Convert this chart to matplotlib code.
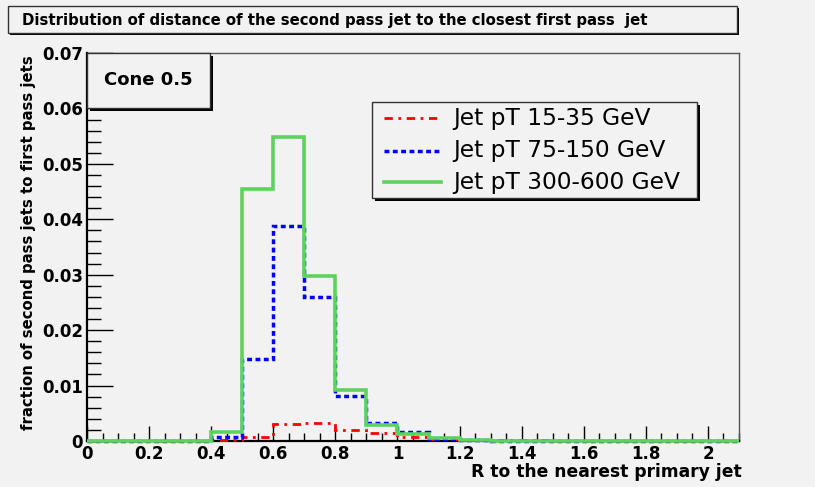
import numpy as np
import matplotlib
matplotlib.use("Agg")
import matplotlib.pyplot as plt
from matplotlib.patches import Rectangle
from matplotlib.lines import Line2D
from matplotlib.ticker import MultipleLocator, FixedFormatter, FixedLocator

# ---------------- data ----------------
bin_edges = np.round(np.linspace(0.0, 2.1, 22), 2)
red_vals = [0, 0, 0, 0, 0.0001, 0.0007, 0.0031, 0.0033, 0.0020, 0.0014, 0.0007,
            0.0003, 0.0002, 0.0001, 0.0001, 0, 0, 0, 0, 0, 0]
blue_vals = [0, 0, 0, 0, 0.0007, 0.0148, 0.0388, 0.0259, 0.0082, 0.0032, 0.0016,
             0.0004, 0.0001, 0, 0, 0, 0, 0, 0, 0, 0]
green_vals = [0, 0, 0, 0, 0.0016, 0.0455, 0.0549, 0.0298, 0.0092, 0.0028, 0.0012,
              0.0006, 0.0001, 0, 0, 0, 0, 0, 0, 0, 0]
series_labels = ["Jet pT 15-35 GeV", "Jet pT 75-150 GeV", "Jet pT 300-600 GeV"]
x_ticks = [0, 0.2, 0.4, 0.6, 0.8, 1.0, 1.2, 1.4, 1.6, 1.8, 2.0]
x_ticklabels = ["0", "0.2", "0.4", "0.6", "0.8", "1", "1.2", "1.4", "1.6", "1.8", "2"]
y_ticks = [0, 0.01, 0.02, 0.03, 0.04, 0.05, 0.06, 0.07]
y_ticklabels = ["0", "0.01", "0.02", "0.03", "0.04", "0.05", "0.06", "0.07"]
title_text = "Distribution of distance of the second pass jet to the closest first pass  jet"
xlabel_text = "R to the nearest primary jet"
ylabel_text = "fraction of second pass jets to first pass jets"
box_text = "Cone 0.5"

# ---------------- style ----------------
W, H = 815, 487
BG = "#f2f2f2"
plt.rcParams["font.family"] = ["DejaVu Sans"]

fig = plt.figure(figsize=(W / 100, H / 100), dpi=100, facecolor=BG)

def fx(x):
    return x / W

def fy(y):
    return 1 - y / H

ax_l, ax_r, ax_t, ax_b = 87, 739, 53, 441
ax = fig.add_axes([fx(ax_l), fy(ax_b), (ax_r - ax_l) / W, (ax_b - ax_t) / H])
ax.set_facecolor(BG)

styles = [
    dict(color="#ff0000", lw=2.0, ls=(0, (3, 2, 1, 2))),
    dict(color="#0000ff", lw=2.5, ls=(0, (1.4, 1.0))),
    dict(color="#5cd35c", lw=2.6, ls="-"),
]
for vals, st in zip([red_vals, blue_vals, green_vals], styles):
    ax.stairs(vals, bin_edges, baseline=None, color=st["color"], linewidth=st["lw"],
              linestyle=st["ls"], clip_on=False, zorder=3)

ax.set_xlim(0, 2.1)
ax.set_ylim(0, 0.07)

ax.xaxis.set_major_locator(FixedLocator(x_ticks))
ax.xaxis.set_major_formatter(FixedFormatter(x_ticklabels))
ax.xaxis.set_minor_locator(MultipleLocator(0.05))
ax.yaxis.set_major_locator(FixedLocator(y_ticks))
ax.yaxis.set_major_formatter(FixedFormatter(y_ticklabels))
ax.yaxis.set_minor_locator(MultipleLocator(0.002))

ax.tick_params(axis="x", which="major", direction="in", length=11, width=1.0,
               labelsize=12, pad=3, color="black")
ax.tick_params(axis="x", which="minor", direction="in", length=6, width=1.0, color="black")
ax.tick_params(axis="y", which="major", direction="in", length=19, width=1.0,
               labelsize=12, pad=3, color="black")
ax.tick_params(axis="y", which="minor", direction="in", length=10, width=1.0, color="black")
for lab in ax.get_xticklabels() + ax.get_yticklabels():
    lab.set_fontweight("bold")

for s in ["left", "bottom"]:
    ax.spines[s].set_color("black")
    ax.spines[s].set_linewidth(1.6)
for s in ["top", "right"]:
    ax.spines[s].set_color("#555555")
    ax.spines[s].set_linewidth(1.0)

# axis labels
fig.text(fx(742), fy(472), xlabel_text, ha="right", va="center",
         fontsize=12.3, fontweight="bold")
fig.text(fx(29), fy(243), ylabel_text, ha="center", va="center", rotation=90,
         fontsize=10.7, fontweight="bold")

# helper for boxes with ROOT style shadow
def shadow_box(x0, y0, x1, y1, shadow=3, lw=1.0, ec="#333333"):
    sh = Rectangle((fx(x0 + shadow), fy(y1 + shadow)), (x1 - x0) / W, (y1 - y0) / H,
                   transform=fig.transFigure, facecolor="black", edgecolor="none", zorder=9)
    bx = Rectangle((fx(x0), fy(y1)), (x1 - x0) / W, (y1 - y0) / H,
                   transform=fig.transFigure, facecolor=BG, edgecolor=ec, lw=lw, zorder=10)
    fig.add_artist(sh)
    fig.add_artist(bx)

# title box
shadow_box(8, 6, 737, 33, shadow=2)
fig.text(fx(22), fy(20), title_text, ha="left", va="center", fontsize=10.7,
         fontweight="bold", zorder=11)

# cone box
shadow_box(87, 53, 210, 108, shadow=3)
fig.text(fx(148), fy(80), box_text, ha="center", va="center", fontsize=13,
         fontweight="bold", zorder=11)

# legend box
shadow_box(372, 102, 697, 198, shadow=3)
row_y = [118, 151, 182]
for st, lab, yy in zip(styles, series_labels, row_y):
    fig.add_artist(Line2D([fx(384), fx(441)], [fy(yy), fy(yy)], transform=fig.transFigure,
                          color=st["color"], lw=st["lw"], ls=st["ls"], zorder=11))
    fig.text(fx(453), fy(yy), lab, ha="left", va="center", fontsize=16.8, zorder=11)

fig.savefig("out.png", dpi=100, facecolor=BG)
